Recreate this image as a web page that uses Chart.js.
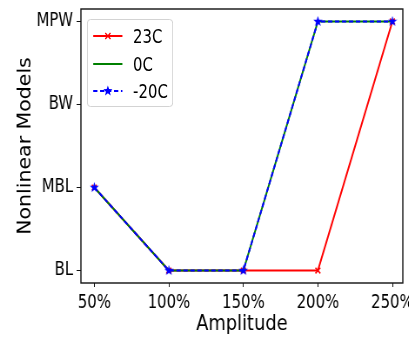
<!DOCTYPE html>
<html>
<head>
<meta charset="utf-8">
<script src="https://cdn.jsdelivr.net/npm/chart.js@4/dist/chart.umd.min.js"></script>
<style>
  body { margin: 0; background: #fff; overflow: hidden; }
  /* the original figure is squeezed horizontally; draw wide, then scale */
  #wrap { position: relative; width: 470px; height: 338px; transform: scaleX(0.87); transform-origin: 0 0; }
  #legend {
    position: absolute; left: 100px; top: 19px; width: 97px; height: 86px;
    border: 1px solid #d0d0d0; border-radius: 4px; background: rgba(255,255,255,.85);
    font-family: 'DejaVu Sans Condensed', 'DejaVu Sans', sans-serif;
    font-size: 19px; color: #000;
  }
  .row { position: absolute; left: 6px; height: 20px; display: flex; align-items: center; }
  .row svg { margin-right: 12px; }
</style>
</head>
<body>
<div id="wrap">
  <canvas id="c" width="470" height="338"></canvas>
  <div id="legend"></div>
</div>
<script>
/* ---- data ---- */
const AMPLITUDES = [50, 100, 150, 200, 250];
const MODELS     = ["BL", "MBL", "BW", "MPW"];
const S_23C      = ["MBL", "BL", "BL", "BL",  "MPW"];
const S_0C       = ["MBL", "BL", "BL", "MPW", "MPW"];
const S_M20C     = ["MBL", "BL", "BL", "MPW", "MPW"];
const SERIES_NAMES = ["23C", "0C", "-20C"];

const TICK_FONT  = "'DejaVu Sans Condensed', 'DejaVu Sans', sans-serif";
const TITLE_FONT = "'DejaVu Sans', sans-serif";

function toPoints(series) {
  return series.map((m, i) => ({ x: AMPLITUDES[i], y: MODELS.indexOf(m) }));
}

/* filled matplotlib-like star marker */
function starCanvas(size, color) {
  const cv = document.createElement("canvas");
  cv.width = size; cv.height = size;
  const g = cv.getContext("2d");
  const c = size / 2, R = size / 2, r = R * 0.42;
  g.beginPath();
  for (let k = 0; k < 10; k++) {
    const a = -Math.PI / 2 + k * Math.PI / 5;
    const rad = k % 2 ? r : R;
    g.lineTo(c + rad * Math.cos(a), c + rad * Math.sin(a));
  }
  g.closePath();
  g.fillStyle = color;
  g.fill();
  return cv;
}

const frame = {
  id: "frame",
  afterDraw(chart) {
    const { ctx, chartArea: a } = chart;
    ctx.save();
    ctx.strokeStyle = "#111";
    ctx.lineWidth = 1.4;
    ctx.strokeRect(a.left, a.top, a.right - a.left, a.bottom - a.top);
    ctx.restore();
  }
};

new Chart(document.getElementById("c"), {
  type: "line",
  data: {
    datasets: [
      {
        label: SERIES_NAMES[0], data: toPoints(S_23C),
        borderColor: "#ff0000", backgroundColor: "#ff0000", borderWidth: 2,
        pointStyle: "crossRot", pointRadius: 4, pointBorderWidth: 1.5,
        pointBorderColor: "#ff0000", order: 3
      },
      {
        label: SERIES_NAMES[1], data: toPoints(S_0C),
        borderColor: "#008000", borderWidth: 2, pointRadius: 0, order: 2
      },
      {
        label: SERIES_NAMES[2], data: toPoints(S_M20C),
        borderColor: "#0000ff", borderWidth: 2, borderDash: [5, 3],
        pointStyle: starCanvas(11, "#0000ff"), pointRadius: 5, order: 1
      }
    ]
  },
  options: {
    responsive: false,
    animation: false,
    layout: { padding: { top: 9, right: 6, left: 0, bottom: 0 } },
    plugins: { legend: { display: false }, tooltip: { enabled: false } },
    scales: {
      x: {
        type: "linear", min: 41, max: 257,
        afterBuildTicks: (s) => { s.ticks = AMPLITUDES.map(v => ({ value: v })); },
        afterFit: (s) => { s.height = 55; s.paddingLeft = 0; s.paddingRight = 0; },
        border: { display: false },
        grid: { drawOnChartArea: false, drawTicks: true, tickLength: 4, color: "#111" },
        ticks: {
          autoSkip: false, maxRotation: 0, padding: 5, color: "#000",
          font: { family: TICK_FONT, size: 19 },
          callback: (v) => v + "%"
        },
        title: {
          display: true, text: "Amplitude", color: "#000",
          font: { family: TITLE_FONT, size: 20.5 }, padding: { top: 0, bottom: 1 }
        }
      },
      y: {
        type: "linear", min: -0.15, max: 3.15,
        afterBuildTicks: (s) => { s.ticks = MODELS.map((m, i) => ({ value: i })); },
        afterFit: (s) => { s.width = 93; s.paddingTop = 0; s.paddingBottom = 0; },
        border: { display: false },
        grid: { drawOnChartArea: false, drawTicks: true, tickLength: 5, color: "#111" },
        ticks: {
          padding: 4, color: "#000",
          font: { family: TICK_FONT, size: 19 },
          callback: (v) => MODELS[v]
        },
        title: {
          display: true, text: "Nonlinear Models", color: "#000",
          font: { family: TITLE_FONT, size: 20.5 }, padding: { top: 17, bottom: 0 }
        }
      }
    }
  },
  plugins: [frame]
});

/* ---- legend (line sample + marker, like matplotlib) ---- */
const LEGEND_STYLE = [
  { color: "#ff0000", dash: "", marker: "x" },
  { color: "#008000", dash: "", marker: "" },
  { color: "#0000ff", dash: "5,3", marker: "star" }
];
const legend = document.getElementById("legend");
SERIES_NAMES.forEach((name, i) => {
  const st = LEGEND_STYLE[i];
  let mk = "";
  if (st.marker === "x") {
    mk = `<path d="M14 6 L20 12 M20 6 L14 12" stroke="${st.color}" stroke-width="1.5"/>`;
  } else if (st.marker === "star") {
    mk = `<polygon points="17,3.5 18.4,7.1 22.2,7.3 19.3,9.7 20.2,13.4 17,11.3 13.8,13.4 14.7,9.7 11.8,7.3 15.6,7.1" fill="${st.color}"/>`;
  }
  const row = document.createElement("div");
  row.className = "row";
  row.style.top = (6 + i * 27.5) + "px";
  row.innerHTML =
    `<svg width="34" height="18"><line x1="0" y1="9" x2="34" y2="9" stroke="${st.color}" stroke-width="2" stroke-dasharray="${st.dash}"/>${mk}</svg>` +
    `<span>${name}</span>`;
  legend.appendChild(row);
});
</script>
</body>
</html>
